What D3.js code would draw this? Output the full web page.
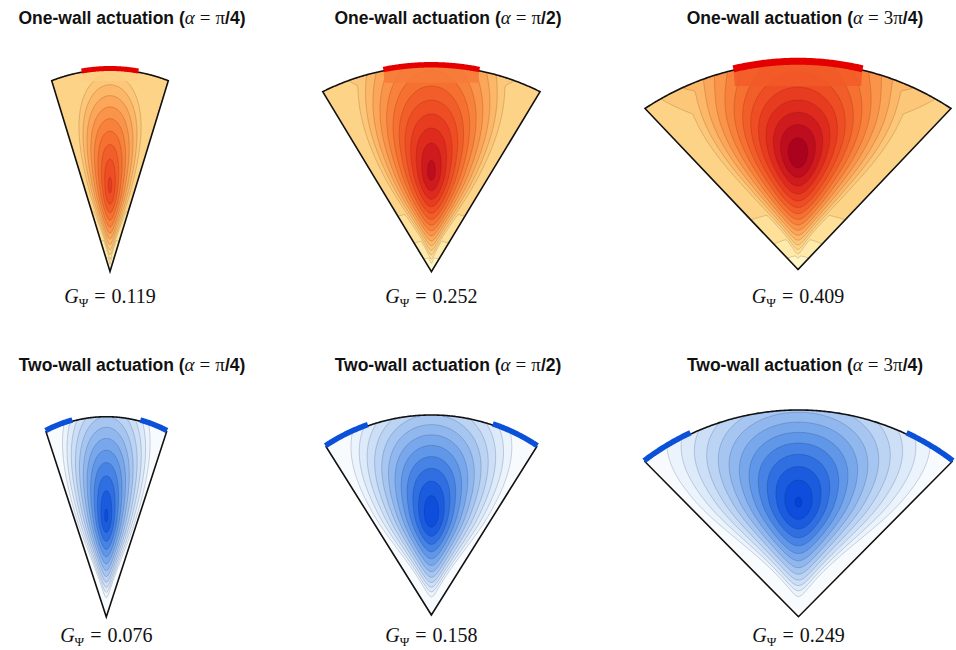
<!DOCTYPE html>
<html>
<head>
<meta charset="utf-8">
<script src="https://cdn.jsdelivr.net/npm/d3@7"></script>
<style>
  body { margin: 0; background: #fff; }
  svg { display: block; }
</style>
</head>
<body>
<div id="chart"></div>
<script>
// DATA
const rowTitles = ['One-wall actuation', 'Two-wall actuation'];
const alphaLabels = ['π/4', 'π/2', '3π/4'];
const gOneWall = [0.119, 0.252, 0.409];
const gTwoWall = [0.076, 0.158, 0.249];
// height of the field maximum above the apex (fraction of the panel height)
const peakYOne = [0.42, 0.48, 0.55];
const peakYTwo = [0.50, 0.50, 0.55];
// colour level reached at the maximum, along the side walls and added under the actuated wall
const peakLevelOne = [0.74, 0.92, 0.99];
const wallLevelOne = [0.19, 0.19, 0.19];
const topLevelOne = [0.0, 0.12, 0.26];
const peakLevelTwo = [0.92, 0.97, 0.99];
// reach of the maximum upwards and downwards (fraction of the panel height)
// and sideways (fraction of the half opening)
const spreadUpOne = [0.60, 0.68, 0.55];
const spreadDownOne = [0.40, 0.45, 0.50];
const spreadSideOne = [0.92, 0.90, 0.85];
const spreadUpTwo = [0.75, 0.73, 0.70];
const spreadDownTwo = [0.45, 0.46, 0.50];
const spreadSideTwo = [1.0, 1.0, 1.0];
// actuated parts of the outer wall, as angular fraction (-1 left edge, 1 right edge)
const actuatorOne = [[[-0.485, 0.485]], [[-0.44, 0.44]], [[-0.42, 0.42]]];
const actuatorTwo = [[[-1, -0.56], [0.56, 1]], [[-1, -0.6], [0.58, 1]], [[-1, -0.7], [0.7, 1]]];

// SETTINGS
const width = 956, height = 650;
const titleX = [132, 448, 805];
const titleY = [24, 371];
const labelY = [303, 642];
// cx: apex x, apex: apex y, w: half width at the corners, h: apex to corner height, s: arc sagitta
const panelBoxes = [
  [{ cx: 110, apex: 271.5, w: 58.3, h: 190.8, s: 11 },
   { cx: 431.4, apex: 271.7, w: 108.7, h: 180, s: 25.7 },
   { cx: 798, apex: 269.5, w: 153, h: 161, s: 46 }],
  [{ cx: 106.3, apex: 617, w: 60.3, h: 185.3, s: 15 },
   { cx: 431.4, apex: 615, w: 105.3, h: 168.3, s: 31.7 },
   { cx: 798.5, apex: 616.7, w: 153.5, h: 155, s: 51.7 }]
];
const actuatorWidth = [[5, 5.5, 7], [5.5, 5.5, 5.5]];
const patchDepth = [9, 12, 16];
const actuatorColor = ['#e50000', '#0b50d8'];
const lineColor = ['rgba(90,30,0,0.3)', 'rgba(0,25,70,0.3)'];
const steps = [0.06, 0.075];
const peakSharpness = 1.3;
const topLayerDepth = 0.2;

const redScale = d3.scaleSequential(d3.piecewise(d3.interpolateRgb,
  ['#fffbd2', '#fee9a8', '#fdd68a', '#fcc070', '#fba356', '#f8853e',
   '#f4672c', '#ee4a22', '#e02e1e', '#c8121e', '#a8001e'])).domain([0, 1]);
const blueScale = d3.scaleSequential(d3.piecewise(d3.interpolateRgb,
  ['#ffffff', '#e2edfa', '#bcd5f4', '#8db6ee', '#5690e7', '#2062e0', '#0442da'])).domain([0, 1]);
const colorScales = [redScale, blueScale];

const nt = 150, nr = 130;

const svg = d3.select('#chart').append('svg')
  .attr('width', width)
  .attr('height', height);

// (angular fraction t, radius rho) -> coordinates in units of the panel height,
// then to pixels through the panel's scales
function makeGeom(p) {
  const R = (p.w * p.w + p.s * p.s) / (2 * p.s);
  const top = p.h + p.s;
  const half = p.w / top;
  const x = d3.scaleLinear().domain([-half, half]).range([p.cx - p.w, p.cx + p.w]);
  const y = d3.scaleLinear().domain([0, 1]).range([p.apex, p.apex - top]);
  const reach = t => (p.h + p.s - R + Math.sqrt(R * R - p.w * p.w * t * t)) / top;
  const norm = (t, rho) => [rho * t * half, rho * reach(t)];
  const map = (t, rho) => {
    const [u, v] = norm(t, rho);
    return [x(u), y(v)];
  };
  return { norm, map };
}

// peaked hill: 1 at the maximum, 0 at the given reach
function hill(t, v, y0, up, down, side) {
  const dv = (v - y0) / (v > y0 ? up : down);
  const dt = t / side;
  const d = Math.sqrt(dt * dt + dv * dv);
  return Math.max(0, 1 - Math.pow(d, peakSharpness));
}

function ramp(rho) {
  const r = 1 - Math.min(rho / 0.4, 1);
  return 1 - r * r;
}

function oneWallField(t, rho, i, norm) {
  const v = norm(t, rho)[1];
  const w = wallLevelOne[i];
  const b = hill(t, v, peakYOne[i], spreadUpOne[i], spreadDownOne[i], spreadSideOne[i]);
  const layer = topLevelOne[i] * Math.exp(-(1 - rho) / topLayerDepth) * (1 - t * t);
  return w * ramp(rho) + (peakLevelOne[i] - w) * b + layer;
}

function twoWallField(t, rho, i, norm) {
  const v = norm(t, rho)[1];
  const b = hill(t, v, peakYTwo[i], spreadUpTwo[i], spreadDownTwo[i], spreadSideTwo[i]);
  return peakLevelTwo[i] * b * (1 - Math.exp(-Math.pow(rho / 0.1, 2)));
}

const fields = [oneWallField, twoWallField];
const arcT = d3.range(-1, 1.0001, 0.01);

[0, 1].forEach(row => {
  [0, 1, 2].forEach(i => {
    const box = panelBoxes[row][i];
    const { norm, map } = makeGeom(box);
    const color = colorScales[row];
    const step = steps[row];
    const g = svg.append('g');

    // sector outline
    const outline = d3.line()([map(0, 0)].concat(arcT.map(t => map(t, 1))));
    const clipId = `clip-${row}-${i}`;
    g.append('clipPath').attr('id', clipId)
      .append('path').attr('d', outline + 'Z');

    // field on a (t, rho) grid
    const values = new Float64Array(nt * nr);
    for (let j = 0; j < nr; j++) {
      const rho = (j + 0.5) / nr;
      for (let k = 0; k < nt; k++) {
        const t = -1 + 2 * (k + 0.5) / nt;
        values[j * nt + k] = fields[row](t, rho, i, norm);
      }
    }
    const contours = d3.contours().size([nt, nr])
      .thresholds(d3.range(step, 1, step))(values);

    const projection = d3.geoTransform({
      point(gx, gy) {
        const pt = map(-1 + 2 * gx / nt, gy / nr);
        this.stream.point(pt[0], pt[1]);
      }
    });
    const path = d3.geoPath(projection);

    const field = g.append('g').attr('clip-path', `url(#${clipId})`);
    field.append('path')
      .attr('d', outline + 'Z')
      .attr('fill', color(step / 2));
    field.selectAll('path.band')
      .data(contours.filter(c => c.coordinates.length))
      .join('path')
        .attr('class', 'band')
        .attr('d', path)
        .attr('fill', d => color(Math.min(d.value + step / 2, 1)))
        .attr('stroke', lineColor[row])
        .attr('stroke-width', 0.6);

    // shaded layer under the actuated wall (one-wall case)
    if (row === 0) {
      const [t0, t1] = actuatorOne[i][0];
      const ts = d3.range(t0, t1 + 0.0001, 0.01);
      const arcPts = ts.map(t => map(t, 1));
      const a = arcPts[0], b = arcPts[arcPts.length - 1];
      const yb = Math.max(a[1], b[1]) + patchDepth[i];
      field.append('path')
        .attr('d', d3.line()(arcPts.concat([[b[0] - 1, yb], [a[0] + 1, yb]])) + 'Z')
        .attr('fill', color(fields[row](0, 0.985, i, norm)))
        .attr('opacity', 0.85);
    }

    g.append('path')
      .attr('d', outline + 'Z')
      .attr('fill', 'none')
      .attr('stroke', '#111')
      .attr('stroke-width', 1.6)
      .attr('stroke-linejoin', 'miter');

    // actuated wall segments
    const acts = row === 0 ? actuatorOne[i] : actuatorTwo[i];
    acts.forEach(([t0, t1]) => {
      const ts = d3.range(t0, t1 + 0.0001, 0.01);
      g.append('path')
        .attr('d', d3.line()(ts.map(t => map(t, 1.006))))
        .attr('fill', 'none')
        .attr('stroke', actuatorColor[row])
        .attr('stroke-width', actuatorWidth[row][i]);
    });

    // title
    const m = alphaLabels[i].match(/^(\d?π)(\/\d)$/);
    const title = svg.append('text')
      .attr('x', titleX[i])
      .attr('y', titleY[row])
      .attr('text-anchor', 'middle')
      .style('font-size', '17.5px')
      .style('fill', '#111');
    title.append('tspan')
      .style('font-family', '"Liberation Sans", Arial, sans-serif')
      .style('font-weight', 'bold')
      .text(rowTitles[row] + ' (');
    title.append('tspan')
      .style('font-family', '"Liberation Serif", serif')
      .style('font-style', 'italic')
      .style('font-size', '19px')
      .text('α');
    title.append('tspan')
      .attr('dx', 5)
      .style('font-family', '"Liberation Serif", serif')
      .style('font-size', '19px')
      .text('=');
    title.append('tspan')
      .attr('dx', 5)
      .style('font-family', '"Liberation Serif", serif')
      .style('font-size', '19px')
      .text(m[1]);
    title.append('tspan')
      .style('font-family', '"Liberation Sans", Arial, sans-serif')
      .style('font-weight', 'bold')
      .text(m[2] + ')');

    // G label
    const gVal = row === 0 ? gOneWall[i] : gTwoWall[i];
    const label = svg.append('text')
      .attr('x', box.cx)
      .attr('y', labelY[row])
      .attr('text-anchor', 'middle')
      .style('font-family', '"Liberation Serif", serif')
      .style('font-size', '20px')
      .style('fill', '#111');
    label.append('tspan').style('font-style', 'italic').text('G');
    label.append('tspan').attr('dy', 4).style('font-size', '13px').text('Ψ');
    label.append('tspan').attr('dy', -4).attr('dx', 6).text('=');
    label.append('tspan').attr('dx', 6).text(d3.format('.3f')(gVal));
  });
});
</script>
</body>
</html>
